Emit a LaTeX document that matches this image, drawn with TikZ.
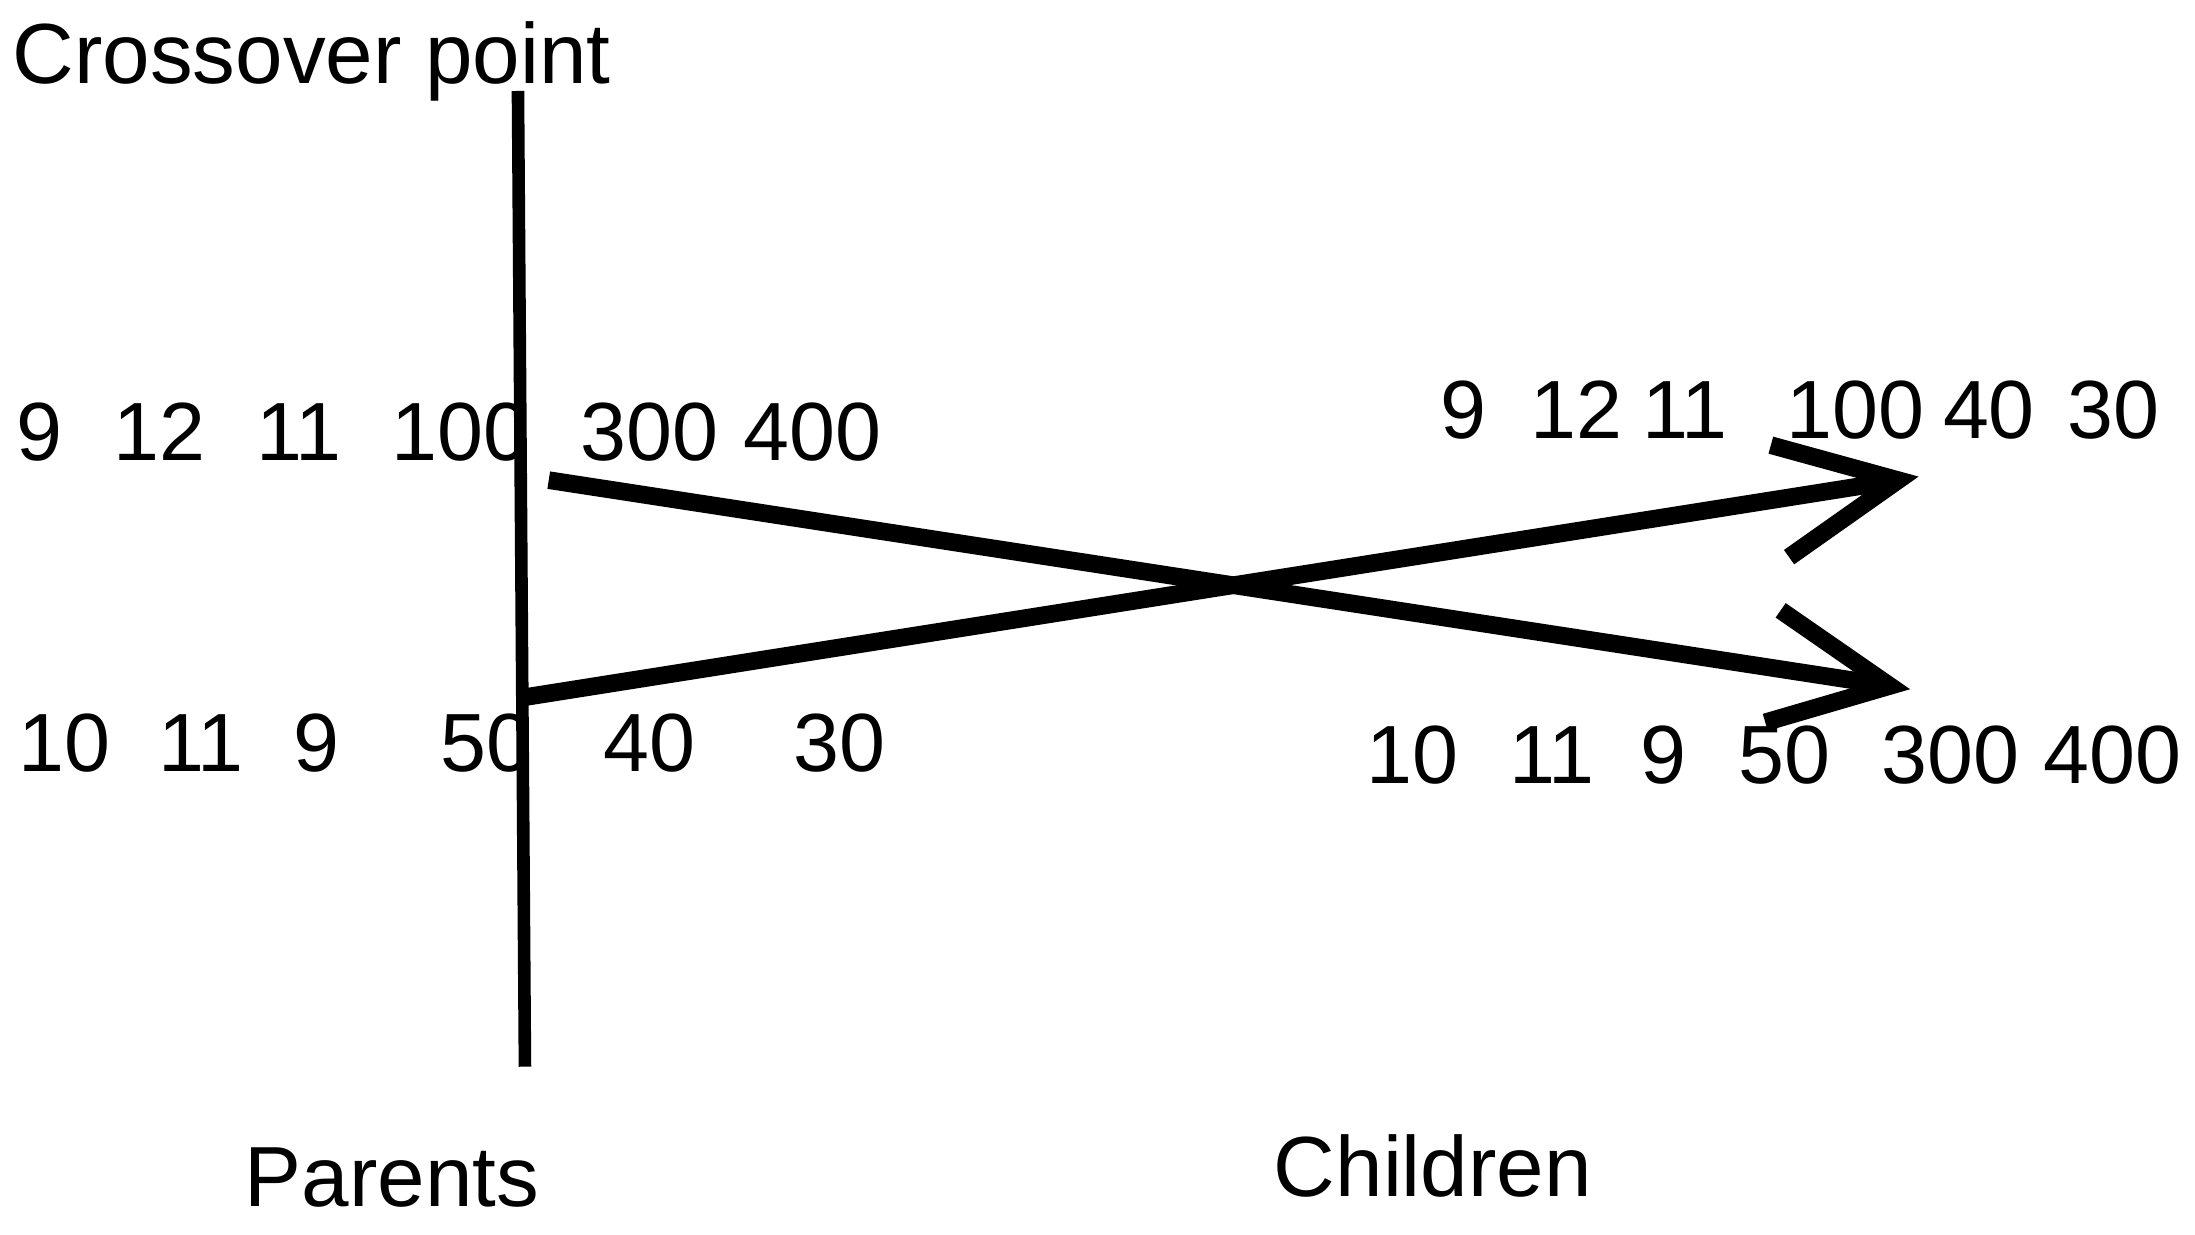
\documentclass[tikz,border=0pt]{standalone}
\usepackage{fontspec}
\setmainfont{Liberation Sans}
\begin{document}
\begin{tikzpicture}[x=0.5pt,y=-0.5pt,
  lbl/.style={anchor=base west,inner sep=0pt,outer sep=0pt,font=\fontsize{29.5}{35}\selectfont},
  ttl/.style={anchor=base west,inner sep=0pt,outer sep=0pt,font=\fontsize{30.5}{36}\selectfont},
  cutline/.style={line width=4.5pt,line cap=butt},
  crossline/.style={line width=6.3pt,line cap=butt},
  barb/.style={line width=6.3pt,line cap=butt,line join=miter}]
\useasboundingbox (0,0) rectangle (1568,882);
% titles
\node[ttl] (cp) at (9,60) {Crossover point};
\node[ttl] (par) at (175,862) {Parents};
\node[ttl] (chi) at (910,855) {Children};
% parent 1
\node[lbl] (pa1) at (12,329) {9};
\node[lbl] (pa2) at (81,329) {12};
\node[lbl] (pa3) at (183,329) {11};
\node[lbl] (pa4) at (280,329) {100};
\node[lbl] (pa5) at (415,329) {300};
\node[lbl] (pa6) at (531,329) {400};
% parent 2
\node[lbl] (pb1) at (13,551) {10};
\node[lbl] (pb2) at (113,551) {11};
\node[lbl] (pb3) at (210,551) {9};
\node[lbl] (pb4) at (315,551) {50};
\node[lbl] (pb5) at (431,551) {40};
\node[lbl] (pb6) at (567,551) {30};
% child 1
\node[lbl] (ca1) at (1029,313) {9};
\node[lbl] (ca2) at (1093,313) {12};
\node[lbl] (ca3) at (1173,313) {11};
\node[lbl] (ca4) at (1276,313) {100};
\node[lbl] (ca5) at (1388,313) {40};
\node[lbl] (ca6) at (1477,313) {30};
% child 2
\node[lbl] (cb1) at (976,560) {10};
\node[lbl] (cb2) at (1078,560) {11};
\node[lbl] (cb3) at (1172,560) {9};
\node[lbl] (cb4) at (1242,560) {50};
\node[lbl] (cb5) at (1344,560) {300};
\node[lbl] (cb6) at (1460,560) {400};
% crossover line
\coordinate (vtop) at (370,65);
\coordinate (vbot) at (375,762);
\draw[cutline] (vtop) -- (vbot);
% crossing connectors
\coordinate (s1) at (392,343);
\coordinate (t1) at (1350,490);
\coordinate (s2) at (375,498);
\coordinate (t2) at (1356,343);
\draw[crossline] (s1) -- (t1);
\draw[crossline] (s2) -- (t2);
% arrow heads
\coordinate (ua1) at (1265,318);
\coordinate (ua2) at (1278,398);
\coordinate (la1) at (1272,436);
\coordinate (la2) at (1261,516);
\draw[barb] (ua1) -- (t2) -- (ua2);
\draw[barb] (la1) -- (t1) -- (la2);
\end{tikzpicture}
\end{document}
